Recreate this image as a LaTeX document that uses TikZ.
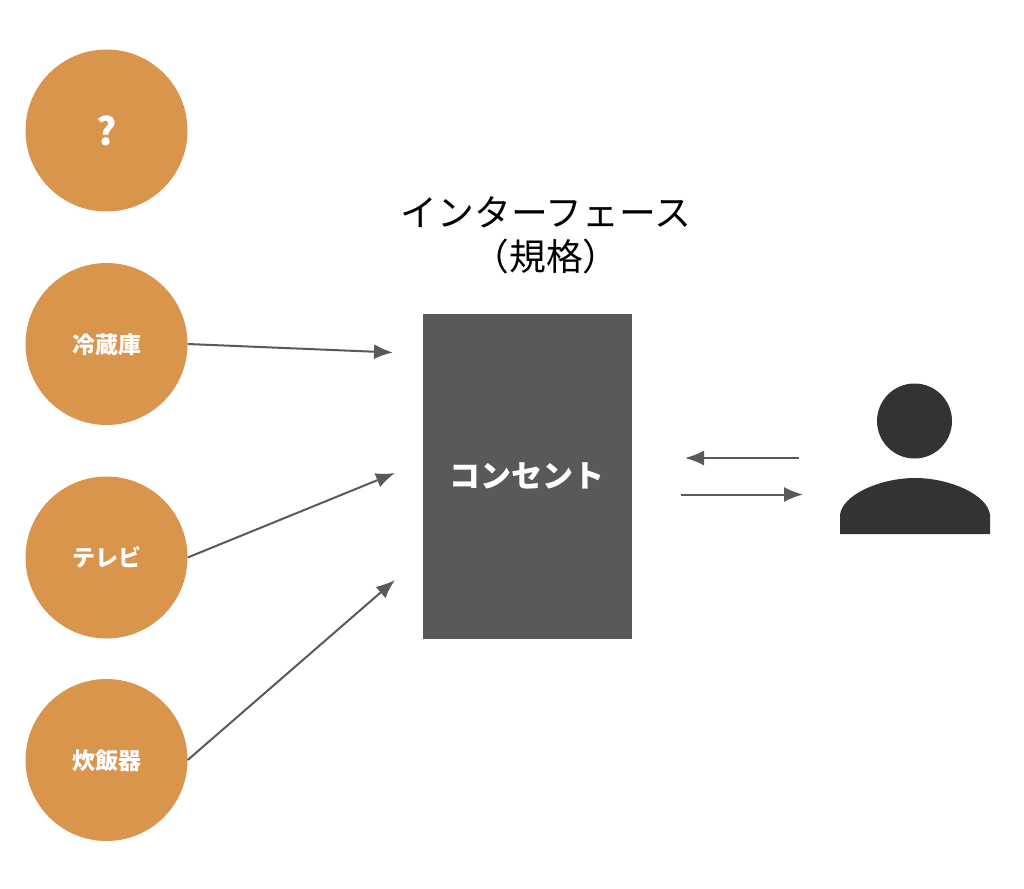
\documentclass[tikz,border=0pt]{standalone}
\usepackage{fontspec}
\usepackage{xcolor}
\usetikzlibrary{arrows.meta}
\newfontfamily\cjk{Noto Sans CJK JP}
\definecolor{orange1}{HTML}{DA954D}
\definecolor{gray1}{HTML}{595959}
\definecolor{dark1}{HTML}{333333}
\tikzset{
  device/.style={circle, fill=orange1, minimum size=162pt, inner sep=0pt, text=white, font=\cjk\bfseries\fontsize{23}{26}\selectfont},
  link/.style={draw=gray1, line width=2pt, -{Latex[length=19pt,width=15pt]}}
}

\begin{document}
\begin{tikzpicture}[x=1pt,y=-1pt]

\useasboundingbox (0,0) rectangle (1024,888);

\node (q) at (106.5,130.5)[device,font=\cjk\bfseries\fontsize{38}{40}\selectfont]{?};
\node (fridge) at (106.5,344)[device,text depth=1.5pt]{冷蔵庫};
\node (tv) at (106.5,557.5)[device]{テレビ};
\node (rice) at (106.5,760)[device,text depth=1.5pt]{炊飯器};

\node (plug) at (527,476)[fill=gray1, minimum width=209pt, minimum height=325pt, inner sep=0pt, text=white, font=\cjk\bfseries\fontsize{31}{34}\selectfont]{コンセント};

\node (title) at (546,235)[align=center, font=\cjk\fontsize{36.8}{44}\selectfont]{インターフェース\\（規格）};

\coordinate (a1) at (393,352.5);
\coordinate (a2) at (395,473);
\coordinate (a3) at (395,580);
\coordinate (b1) at (685,458);
\coordinate (b2) at (799,458);
\coordinate (c1) at (681,494.5);
\coordinate (c2) at (803,494.5);

\draw[link] (fridge.east) -- (a1);
\draw[link] (tv.east) -- (a2);
\draw[link] (rice.east) -- (a3);
\draw[link] (b2) -- (b1);
\draw[link] (c1) -- (c2);

% person
\node (head) at (914.5,421)[circle, fill=dark1, minimum size=75pt, inner sep=0pt]{};
\fill[dark1] (840,534) -- (840,515) .. controls (842,495) and (880,478) .. (915,478) .. controls (950,478) and (988,495) .. (990,515) -- (990,534) -- cycle;

\end{tikzpicture}
\end{document}
